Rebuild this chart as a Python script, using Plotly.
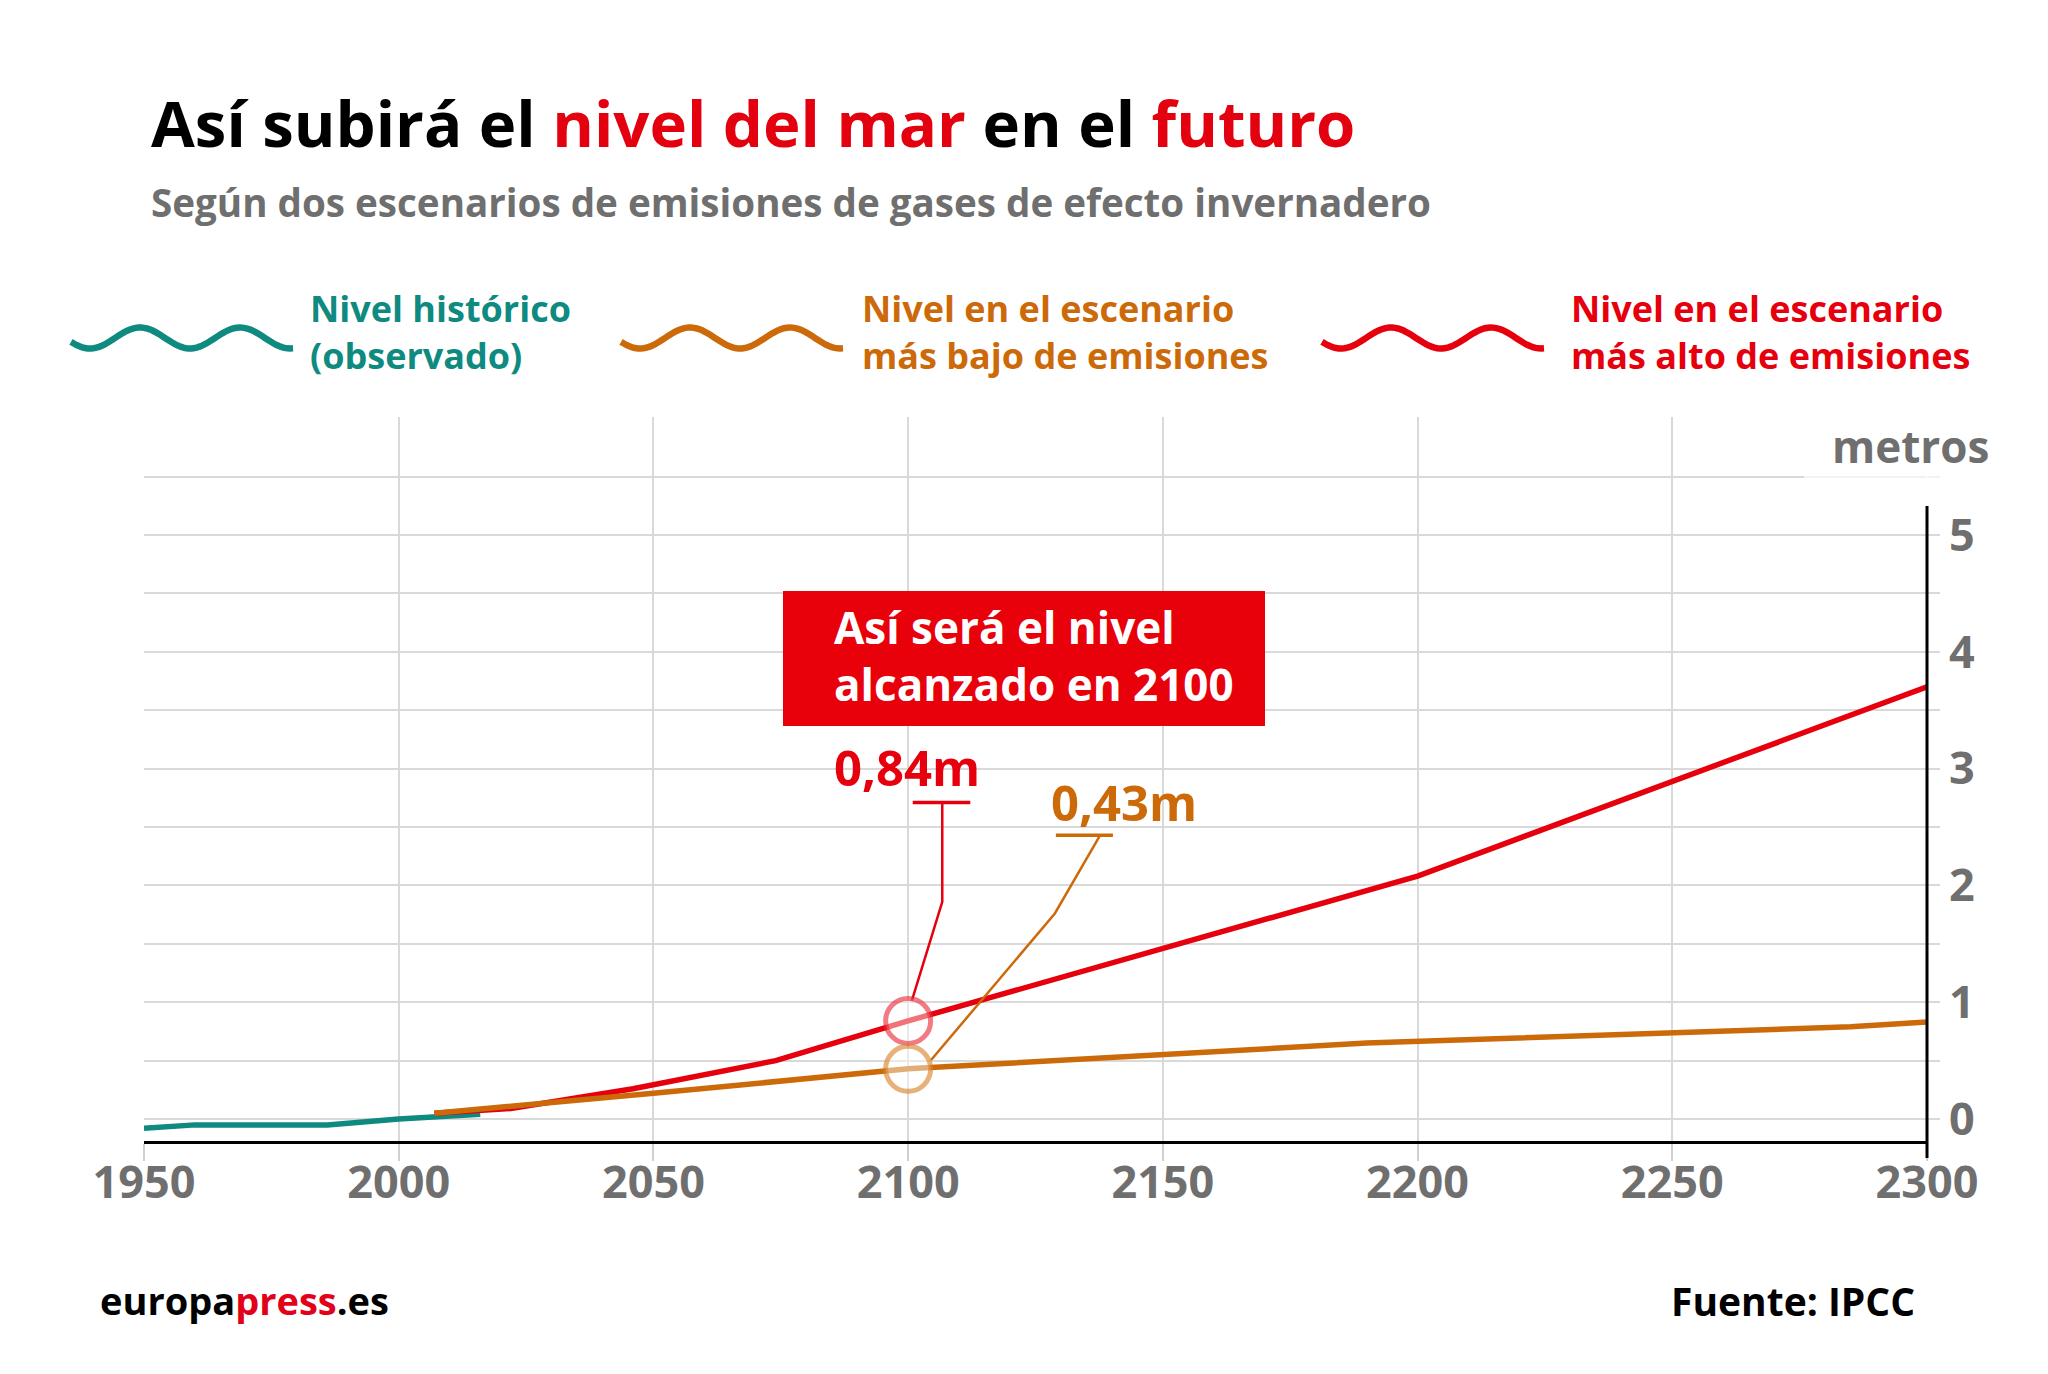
import numpy as np
import plotly.graph_objects as go

# --- data ---
years_hist = [1950, 1960, 1986, 2000, 2016]
level_hist = [-0.08, -0.05, -0.05, 0.0, 0.04]

years_low = [2007, 2050, 2100, 2190, 2285, 2300]
level_low = [0.05, 0.22, 0.43, 0.65, 0.79, 0.83]

years_high = [2007, 2022, 2046, 2074, 2100, 2200, 2300]
level_high = [0.05, 0.09, 0.26, 0.50, 0.84, 2.08, 3.70]

highlight_year = 2100
highlight_high = 0.84
highlight_low = 0.43

x_tick_vals = [1950, 2000, 2050, 2100, 2150, 2200, 2250, 2300]
y_tick_vals = [0, 0.5, 1, 1.5, 2, 2.5, 3, 3.5, 4, 4.5, 5, 5.5]
y_tick_text = ["0", "", "1", "", "2", "", "3", "", "4", "", "5", ""]

TEAL = "#0e8a80"
ORANGE = "#cc6a0a"
RED = "#e6000d"
GREY = "#6f6f6f"
FONT = "Open Sans"

# the page puts the figure 8px in from the top-left corner
OFF = 8
W, H = 2048 - 2 * OFF, 1374 - 2 * OFF
PL, PR, PT, PB = 144, 1927, 417, 1141  # plot area in page pixels


def px(x):
    return (x - PL) / (PR - PL)


def py(y):
    return (PB - y) / (PB - PT)


def text(s, x, baseline, size, color, anchor="left", lines=1, spacing=None):
    # place text by the baseline of its first line (page pixels)
    step = 1.3 * size
    if spacing is not None:
        # plotly's line step is fixed, so split the difference around the reference
        baseline -= (lines - 1) * (step - spacing) / 2
    last = baseline + (lines - 1) * step
    return dict(
        text=s, xref="paper", yref="paper", x=px(x), y=py(last + 0.293 * size),
        xanchor=anchor, yanchor="bottom", align="left", showarrow=False, borderpad=0,
        font=dict(family=FONT, size=size, color=color, weight="bold"),
    )


fig = go.Figure()

fig.add_trace(go.Scatter(x=years_hist, y=level_hist, mode="lines",
                         line=dict(color=TEAL, width=5.5), name="Nivel histórico"))
fig.add_trace(go.Scatter(x=years_high, y=level_high, mode="lines",
                         line=dict(color=RED, width=5.5), name="Escenario alto"))
fig.add_trace(go.Scatter(x=years_low, y=level_low, mode="lines",
                         line=dict(color=ORANGE, width=5.5), name="Escenario bajo"))

# leader lines from the 2100 values to their labels
hx = highlight_year
fig.add_trace(go.Scatter(
    x=[hx + 0.7, hx + 6.7, hx + 6.7], y=[highlight_high + 0.17, highlight_high + 1.02, highlight_high + 1.87],
    mode="lines", line=dict(color=RED, width=2.5)))
fig.add_trace(go.Scatter(
    x=[hx + 0.9, hx + 12.2], y=[highlight_high + 1.87] * 2,
    mode="lines", line=dict(color=RED, width=3.5)))
fig.add_trace(go.Scatter(
    x=[hx + 4.5, hx + 28.8, hx + 37.7], y=[highlight_low + 0.075, highlight_low + 1.33, highlight_low + 2.0],
    mode="lines", line=dict(color=ORANGE, width=2.5)))
fig.add_trace(go.Scatter(
    x=[hx + 29.0, hx + 40.2], y=[highlight_low + 2.0] * 2,
    mode="lines", line=dict(color=ORANGE, width=3.5)))

# rings around the 2100 values
fig.add_trace(go.Scatter(
    x=[hx, hx], y=[highlight_high, highlight_low], mode="markers",
    marker=dict(size=45, color="rgba(255,255,255,0.45)",
                line=dict(color=["rgba(232,40,55,0.62)", "rgba(214,130,40,0.62)"], width=5))))

# legend waves drawn as paths
shapes = []
for x0, col in [(71, TEAL), (621, ORANGE), (1322, RED)]:
    xs = np.linspace(x0, x0 + 222, 80)
    ys = 338 - 10.5 * np.cos(2 * np.pi * (xs - (x0 + 69)) / 100)
    path = "M " + " L ".join(f"{px(a):.5f},{py(b):.5f}" for a, b in zip(xs, ys))
    shapes.append(dict(type="path", path=path, xref="paper", yref="paper",
                       line=dict(color=col, width=6.5), layer="above"))

# callout box
shapes.append(dict(type="rect", xref="paper", yref="paper", x0=px(783), x1=px(1265),
                   y0=py(726), y1=py(591), fillcolor="#e8000b", line=dict(width=0), layer="above"))
# right axis line
shapes.append(dict(type="line", xref="paper", yref="paper", x0=1, x1=1, y0=py(1158), y1=py(506),
                   line=dict(color="black", width=3), layer="above"))
# light box behind "metros"
shapes.append(dict(type="rect", xref="paper", yref="paper", x0=px(1804), x1=px(1942),
                   y0=py(486), y1=py(430), fillcolor="rgba(255,255,255,0.65)",
                   line=dict(width=0), layer="above"))

annotations = [
    text("Así subirá el <span style='color:#e3000f'>nivel del mar</span> en el "
         "<span style='color:#e3000f'>futuro</span>", 150, 148, 63.5, "#000000"),
    text("Según dos escenarios de emisiones de gases de efecto invernadero", 150, 218, 38.6, GREY),
    text("Nivel histórico<br>(observado)", 309, 326, 36, TEAL, lines=2, spacing=43),
    text("Nivel en el escenario<br>más bajo de emisiones", 861, 326, 36, ORANGE, lines=2, spacing=43),
    text("Nivel en el escenario<br>más alto de emisiones", 1570, 326, 36, RED, lines=2, spacing=43),
    text("metros", 1990, 464, 44, GREY, anchor="right"),
    text("Así será el nivel<br>alcanzado en 2100", 833, 650, 44, "white", lines=2, spacing=47),
    text("0,84m", 907, 787, 49, RED, anchor="center"),
    text("0,43m", 1124, 822, 49, ORANGE, anchor="center"),
    text("europa<span style='color:#e2001a'>press</span>.es", 99, 1316, 38, "#000000"),
    text("Fuente: IPCC", 1916, 1317, 39, "#000000", anchor="right"),
]

fig.update_layout(
    width=W, height=H,
    margin=dict(l=PL - OFF, r=W + OFF - PR, t=PT - OFF, b=H + OFF - PB),
    paper_bgcolor="white", plot_bgcolor="white",
    showlegend=False,
    shapes=shapes,
    annotations=annotations,
)

fig.update_xaxes(
    range=[1950, 2300], tickvals=x_tick_vals,
    showgrid=True, gridcolor="#d9d9d9", gridwidth=2,
    showline=True, linecolor="black", linewidth=3,
    ticks="outside", ticklen=17, tickcolor="#d0d0d0", tickwidth=2,
    ticklabelstandoff=-17,
    tickfont=dict(family=FONT, size=45, color=GREY, weight="bold"),
    zeroline=False,
)
fig.update_yaxes(
    range=[-0.188, 6.01], side="right", tickvals=y_tick_vals, ticktext=y_tick_text,
    showgrid=True, gridcolor="#d9d9d9", gridwidth=2,
    showline=False, zeroline=False,
    ticks="outside", ticklen=12, tickcolor="#d9d9d9", tickwidth=2,
    tickfont=dict(family=FONT, size=45, color=GREY, weight="bold"),
)

fig.write_html("out.html")
